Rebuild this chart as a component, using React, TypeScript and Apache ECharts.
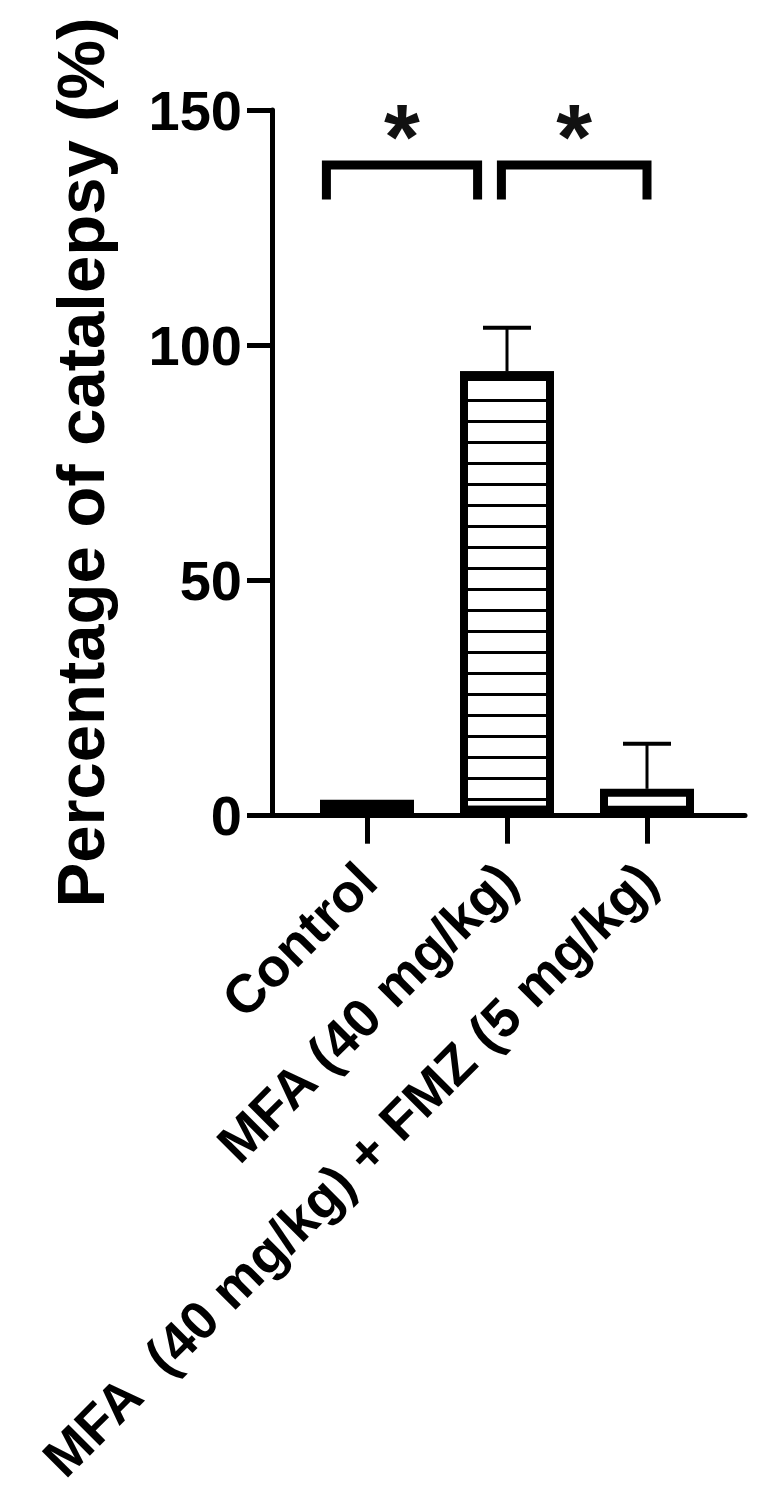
import React, { useEffect, useRef } from 'react';
import * as echarts from 'echarts';

const categories = ['Control', 'MFA (40 mg/kg)', 'MFA\u00a0 (40 mg/kg) + FMZ (5 mg/kg)'];
const means = [3.0, 94.3, 5.3];
const sems = [0, 9.3, 9.6];
const yMin = 0;
const yMax = 150;
const yInterval = 50;
// significance brackets (x as category index, y in %)
const bracketFrom = [-0.29, 0.96];
const bracketTo = [0.79, 2.0];
const bracketTop = [138.3, 138.3];
const bracketBottom = [130.9, 130.9];
const starY = [147.4, 147.4];
const starLabels = ['*', '*'];

const FONT = '"Liberation Sans", Arial, Helvetica, sans-serif';

export default function App() {
  const ref = useRef<HTMLDivElement>(null);
  useEffect(() => {
    if (!ref.current) return;
    const chart = echarts.init(ref.current, undefined, { renderer: 'svg' });
    const barStyles = [
      { color: '#000', borderColor: '#000', borderWidth: 8 },
      {
        color: '#fff',
        borderColor: '#000',
        borderWidth: 8,
        decal: {
          symbol: 'rect',
          symbolSize: 1,
          dashArrayX: [1, 0],
          dashArrayY: [3, 18],
          rotation: 0,
          color: '#000',
          backgroundColor: '#fff',
        },
      },
      { color: '#fff', borderColor: '#000', borderWidth: 8 },
    ];
    const option: any = {
      animation: false,
      backgroundColor: '#fff',
      grid: [
        { left: 272, right: 17, top: 110, bottom: 673 },
        { left: 297, right: 45, top: 110, bottom: 673 },
      ],
      xAxis: [
        {
          gridIndex: 0,
          type: 'value',
          min: 0,
          max: 1,
          axisLine: { show: true, lineStyle: { color: '#000', width: 5 } },
          axisTick: { show: false },
          axisLabel: { show: false },
          splitLine: { show: false },
        },
        {
          gridIndex: 1,
          type: 'category',
          data: categories,
          axisLine: { show: false },
          axisTick: { show: true, alignWithLabel: true, length: 30, lineStyle: { color: '#000', width: 5 } },
          axisLabel: {
            rotate: 45,
            margin: 58,
            interval: 0,
            fontSize: 54,
            fontWeight: 'bold',
            color: '#000',
            fontFamily: FONT,
          },
          splitLine: { show: false },
        },
        { gridIndex: 1, type: 'value', min: -0.5, max: 2.5, show: false },
      ],
      yAxis: [
        {
          gridIndex: 0,
          type: 'value',
          min: yMin,
          max: yMax,
          interval: yInterval,
          axisLine: { show: true, lineStyle: { color: '#000', width: 5 } },
          axisTick: { show: true, length: 25, lineStyle: { color: '#000', width: 5 } },
          axisLabel: { fontSize: 56, fontWeight: 'bold', color: '#000', margin: 30, fontFamily: FONT },
          splitLine: { show: false },
          name: 'Percentage of catalepsy (%)',
          nameLocation: 'middle',
          nameGap: 158,
          nameTextStyle: { fontSize: 67, fontWeight: 'bold', color: '#000', fontFamily: FONT },
        },
        { gridIndex: 1, type: 'value', min: yMin, max: yMax, show: false },
      ],
      series: [
        {
          type: 'bar',
          xAxisIndex: 1,
          yAxisIndex: 1,
          barWidth: 94,
          data: means.map((v, i) => ({ value: v, itemStyle: barStyles[i] })),
          z: 2,
        },
        {
          type: 'custom',
          xAxisIndex: 2,
          yAxisIndex: 1,
          z: 3,
          data: means.map((m, i) => [i, m, m + sems[i]]).filter((_, i) => sems[i] > 0),
          encode: { x: 0, y: [1, 2] },
          renderItem: (params: any, api: any) => {
            const x = api.value(0);
            const p0 = api.coord([x, api.value(1)]);
            const p1 = api.coord([x, api.value(2)]);
            return {
              type: 'group',
              children: [
                { type: 'line', shape: { x1: p0[0], y1: p0[1], x2: p1[0], y2: p1[1] }, style: { stroke: '#000', lineWidth: 3 } },
                { type: 'line', shape: { x1: p1[0] - 24, y1: p1[1], x2: p1[0] + 24, y2: p1[1] }, style: { stroke: '#000', lineWidth: 4 } },
              ],
            };
          },
        },
        {
          type: 'custom',
          xAxisIndex: 2,
          yAxisIndex: 1,
          z: 4,
          data: bracketFrom.map((f, i) => [f, bracketTo[i], bracketTop[i], bracketBottom[i], starY[i]]),
          encode: { x: [0, 1], y: [2, 3, 4] },
          renderItem: (params: any, api: any) => {
            const f = api.value(0);
            const t = api.value(1);
            const top = api.value(2);
            const bot = api.value(3);
            const sy = api.value(4);
            const a = api.coord([f, bot]);
            const b = api.coord([f, top]);
            const c = api.coord([t, top]);
            const d = api.coord([t, bot]);
            const s = api.coord([(f + t) / 2, sy]);
            const fs = 92;
            return {
              type: 'group',
              children: [
                {
                  type: 'polyline',
                  shape: { points: [a, b, c, d] },
                  style: { stroke: '#000', lineWidth: 9, fill: 'none', lineJoin: 'miter', lineCap: 'butt' },
                },
                {
                  type: 'text',
                  x: s[0],
                  y: s[1] + fs * 0.16,
                  style: {
                    text: starLabels[params.dataIndex],
                    fontSize: fs,
                    fontWeight: 'bold',
                    fontFamily: FONT,
                    fill: '#111',
                    align: 'center',
                    verticalAlign: 'middle',
                  },
                },
              ],
            };
          },
        },
      ],
    };
    chart.setOption(option);
    return () => chart.dispose();
  }, []);
  return (
    <div
      ref={ref}
      style={{ position: 'fixed', left: 0, top: 0, width: 762, height: 1488, background: '#fff' }}
    />
  );
}
